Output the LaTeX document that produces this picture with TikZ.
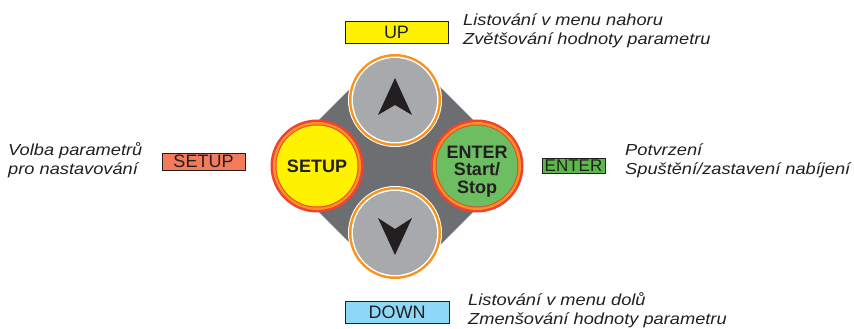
\documentclass[tikz,border=0pt]{standalone}
\usepackage{fontspec}
\setmainfont{Liberation Sans}
\newfontfamily\descfont[FakeStretch=1.14]{Liberation Sans}
\usepackage{tikz}
\definecolor{padgray}{HTML}{6D6E71}
\definecolor{btngray}{HTML}{A7A9AC}
\definecolor{btnorange}{HTML}{F7941D}
\definecolor{btnred}{HTML}{EF4136}
\definecolor{setupyellow}{HTML}{FFF200}
\definecolor{entergreen}{HTML}{6CBE61}
\definecolor{keyblue}{HTML}{8DD8F8}
\definecolor{keysalmon}{HTML}{F37B5C}
\definecolor{keygreen}{HTML}{5BB947}
\definecolor{ink}{HTML}{231F20}
\tikzset{
  keybox/.style={draw=ink, line width=0.9pt, inner sep=0pt, text=ink, font=\fontsize{18}{20}\selectfont},
  desc/.style={anchor=base west, align=left, inner sep=0pt, text=ink, font=\descfont\itshape\fontsize{16}{19}\selectfont},
  btntext/.style={text=ink, inner sep=0pt, font=\bfseries\fontsize{18}{17.5}\selectfont, align=center}
}
\begin{document}
\begin{tikzpicture}[x=1pt,y=1pt]
\useasboundingbox (0,0) rectangle (854,329);
\coordinate (pad) at (396,163);
\coordinate (upc) at (395,229);
\coordinate (downc) at (395,96);
\coordinate (setupc) at (317,163);
\coordinate (enterc) at (477,163);
\fill[padgray, rounded corners=30pt, rotate around={45:(pad)}] (396-87,163-87) rectangle (396+87,163+87);
\foreach \c in {upc,downc} {
  \fill[white] (\c) circle (47pt);
  \fill[btnorange] (\c) circle (46pt);
  \fill[white] (\c) circle (43.5pt);
  \fill[btngray] (\c) circle (42pt);
}
\fill[ink, shift={(upc)}] (0,22) -- (17,-15) -- (0,-5) -- (-17,-15) -- cycle;
\fill[ink, shift={(downc)}] (0,-22) -- (17,15) -- (0,4) -- (-17,15) -- cycle;
\foreach \c/\col in {setupc/setupyellow,enterc/entergreen} {
  \fill[btnred] (\c) circle (46.5pt);
  \fill[btnorange] (\c) circle (44pt);
  \fill[btnred] (\c) circle (41.5pt);
  \fill[\col] (\c) circle (40.5pt);
}
\node[btntext] (setup) at (setupc) {SETUP};
\node[btntext] (enter) at (477,157.5) {ENTER\\Start/\\Stop};
\node[keybox, fill=setupyellow, minimum width=103pt, minimum height=22pt] (upkey) at (396.5,297) {UP};
\node[keybox, fill=keyblue, minimum width=104pt, minimum height=22pt] (downkey) at (397,17) {DOWN};
\node[keybox, fill=keysalmon, minimum width=83pt, minimum height=17pt] (setupkey) at (203.5,167.5) {SETUP};
\node[keybox, fill=keygreen, minimum width=63pt, minimum height=15pt, font=\fontsize{17}{19}\selectfont] (enterkey) at (573.5,163.5) {ENTER};
\node[desc] (updesc) at (463,284) {Listování v menu nahoru\\Zvětšování hodnoty parametru};
\node[desc] (downdesc) at (468,4) {Listování v menu dolů\\Zmenšování hodnoty parametru};
\node[desc] (setupdesc) at (8,154) {Volba parametrů\\pro nastavování};
\node[desc] (enterdesc) at (625,154) {Potvrzení\\Spuštění/zastavení nabíjení};
\end{tikzpicture}
\end{document}
